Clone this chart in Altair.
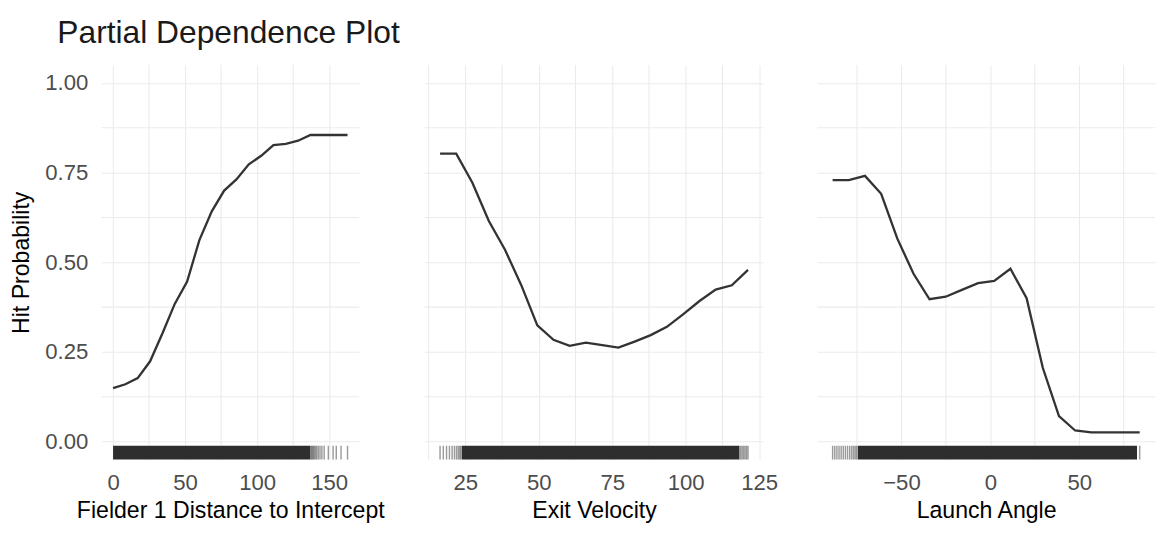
import altair as alt
import pandas as pd

# ---- Panel 1: Fielder 1 Distance to Intercept ----
dist_x = [0, 8.56, 17.1, 25.7, 34.3, 42.8, 51.4, 59.9, 68.5, 77.1, 85.6, 94.2,
          102.8, 111.3, 119.9, 128.4, 137.0, 145.6, 154.1, 162.7]
dist_y = [0.149, 0.160, 0.177, 0.224, 0.302, 0.384, 0.446, 0.562, 0.642, 0.700,
          0.731, 0.773, 0.797, 0.827, 0.830, 0.839, 0.855, 0.855, 0.855, 0.855]
dist_band = [0, 137.0]
dist_rug = [137.6, 138.2, 138.9, 139.6, 140.4, 141.3, 142.4, 143.6, 144.9, 146.5,
            149.4, 152.7, 154.9, 158.2, 162.7]
dist_major = [0, 50, 100, 150]
dist_minor = [25, 75, 125]

# ---- Panel 2: Exit Velocity ----
ev_x = [16.4, 21.9, 27.4, 33.0, 38.5, 44.0, 49.5, 55.0, 60.5, 66.0, 71.6, 77.1,
        82.6, 88.1, 93.6, 99.1, 104.7, 110.2, 115.7, 121.2]
ev_y = [0.803, 0.803, 0.722, 0.615, 0.535, 0.437, 0.324, 0.284, 0.267, 0.276,
        0.269, 0.262, 0.279, 0.297, 0.320, 0.355, 0.392, 0.424, 0.436, 0.479]
ev_band = [23.8, 118.3]
ev_rug = [16.4, 17.5, 18.6, 19.6, 20.5, 21.3, 22.0, 22.6, 23.1, 23.5,
          118.7, 119.2, 119.7, 120.2, 120.7, 121.2]
ev_major = [25, 50, 75, 100, 125]
ev_minor = [12.5, 37.5, 62.5, 87.5, 112.5]

# ---- Panel 3: Launch Angle ----
la_x = [-88.7, -79.6, -70.5, -61.4, -52.3, -43.2, -34.2, -25.1, -16.0, -6.9,
        2.2, 11.3, 20.4, 29.5, 38.6, 47.7, 56.7, 65.8, 74.9, 84.0]
la_y = [0.729, 0.729, 0.741, 0.691, 0.566, 0.468, 0.397, 0.404, 0.423, 0.442,
        0.448, 0.482, 0.400, 0.206, 0.071, 0.031, 0.026, 0.026, 0.026, 0.026]
la_band = [-74.6, 82.5]
la_rug = [-88.7, -87.5, -86.3, -85.1, -83.9, -82.7, -81.5, -80.3, -79.1, -78.0,
          -77.0, -76.1, -75.3, 84.0]
la_major = [-50, 0, 50]
la_minor = [-75, -25, 25, 75]

y_major = [0, 0.25, 0.5, 0.75, 1.0]
y_minor = [0.125, 0.375, 0.625, 0.875]

FONT = "Liberation Sans"
PANEL_H = 410
GRID = "#ebebeb"


def expand(lo, hi, f=0.05):
    r = hi - lo
    return [lo - f * r, hi + f * r]


def panel(xs, ys, band, rug, major, minor, xtitle, width, first):
    dom = expand(min(xs), max(xs))
    xscale = alt.Scale(domain=dom, nice=False, zero=False)
    yscale = alt.Scale(domain=[-0.05, 1.05], nice=False, zero=False)
    xaxis = alt.Axis(values=major, title=xtitle, grid=True, ticks=False,
                     domain=False, labelOverlap=False, labelPadding=13,
                     titlePadding=5, labelFlush=False)
    if first:
        yaxis = alt.Axis(values=y_major, format=".2f", title="Hit Probability",
                         grid=True, ticks=False, domain=False, labelOverlap=False,
                         labelPadding=14, titlePadding=12)
    else:
        yaxis = alt.Axis(values=y_major, labels=False, title=None, grid=True,
                         ticks=False, domain=False)

    line_df = pd.DataFrame({"x": xs, "y": ys})
    band_df = pd.DataFrame({"lo": [band[0]], "hi": [band[1]]})
    rug_df = pd.DataFrame({"x": rug})
    vminor_df = pd.DataFrame({"x": minor})
    hminor_df = pd.DataFrame({"y": y_minor})

    vminor = alt.Chart(vminor_df).mark_rule(color=GRID, strokeWidth=1.1).encode(
        x=alt.X("x:Q", scale=xscale, axis=xaxis))
    hminor = alt.Chart(hminor_df).mark_rule(color=GRID, strokeWidth=1.1).encode(
        y=alt.Y("y:Q", scale=yscale, axis=yaxis))
    line = alt.Chart(line_df).mark_line(color="#333333", strokeWidth=2.4).encode(
        x=alt.X("x:Q", scale=xscale, axis=xaxis),
        y=alt.Y("y:Q", scale=yscale, axis=yaxis),
    )
    band_layer = alt.Chart(band_df).mark_rect(color="#2e2e2e").encode(
        x=alt.X("lo:Q"), x2="hi:Q",
        y=alt.datum(-0.0115), y2=alt.datum(-0.05),
    )
    rug_layer = alt.Chart(rug_df).mark_rule(color="#222222", opacity=0.45,
                                            strokeWidth=1.5).encode(
        x=alt.X("x:Q"),
        y=alt.datum(-0.0115), y2=alt.datum(-0.05),
    )
    return alt.layer(vminor, hminor, line, band_layer, rug_layer).properties(
        width=width, height=PANEL_H)


p1 = panel(dist_x, dist_y, dist_band, dist_rug, dist_major, dist_minor,
           "Fielder 1 Distance to Intercept", 268, True)
p2 = panel(ev_x, ev_y, ev_band, ev_rug, ev_major, ev_minor,
           "Exit Velocity", 352, False)
p3 = panel(la_x, la_y, la_band, la_rug, la_major, la_minor,
           "Launch Angle", 351, False)

chart = alt.hconcat(p1, p2, p3, spacing=40).properties(
    title=alt.TitleParams("Partial Dependence Plot", anchor="start", fontSize=33,
                          font=FONT, fontWeight="normal", color="#1a1a1a",
                          dx=49, offset=15),
    padding={"left": 2, "top": 0, "right": 0, "bottom": 0},
).configure_axis(
    labelFont=FONT, labelFontSize=23, labelColor="#4d4d4d",
    titleFont=FONT, titleFontSize=24, titleColor="#000000", titleFontWeight="normal",
    gridColor=GRID, gridWidth=1.1,
).configure_view(strokeWidth=0)

chart.save("out.html", embed_options={"renderer": "svg", "actions": False})
